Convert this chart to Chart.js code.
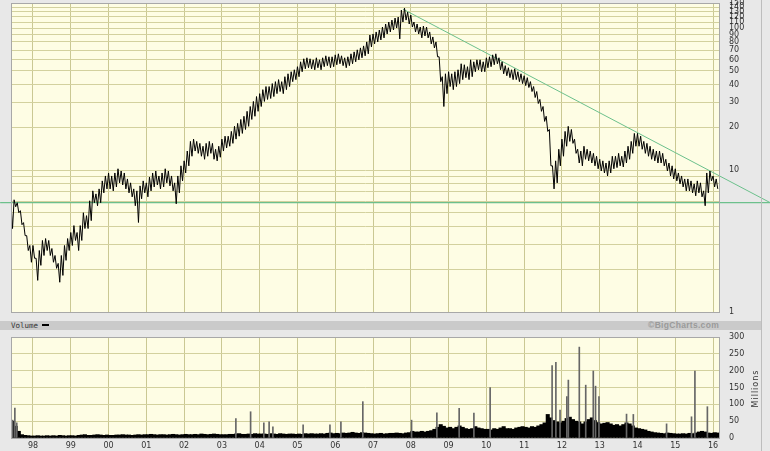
<!DOCTYPE html>
<html>
<head>
<meta charset="utf-8">
<script src="https://cdn.jsdelivr.net/npm/chart.js@4.4.1/dist/chart.umd.min.js"></script>
<style>
  body { margin: 0; width: 770px; height: 451px; background: #e8e8e8; position: relative; overflow: hidden;
         font-family: "DejaVu Sans", Verdana, sans-serif; }
  canvas { position: absolute; left: 0; }
  #price { top: 0; }
  #vol { top: 330px; }
  .band { position: absolute; left: 0; top: 321px; width: 762px; height: 9px; background: #cacaca; }
  .lbl { position: absolute; font-size: 8px; line-height: 9px; color: #333; }
  #volLbl { left: 11px; top: 321px; font-family: "DejaVu Sans Mono", monospace; font-size: 7.5px; }
  #dash { position: absolute; left: 42px; top: 324px; width: 7px; height: 2px; background: #000; }
  #credit { right: 51px; top: 321px; font-family: "Liberation Sans", Arial, sans-serif; font-size: 8.5px;
            font-weight: bold; color: #9a9a9a; letter-spacing: 0.3px; }
  #mill { left: 735px; top: 384px; width: 40px; text-align: center; transform: rotate(-90deg); letter-spacing: 1px; }
  #edge { position: absolute; left: 761px; top: 0; width: 1px; height: 451px; background: #bdbdbd; }
</style>
</head>
<body>
<canvas id="price" width="770" height="316"></canvas>
<div class="band"></div>
<div class="lbl" id="volLbl">Volume</div><div id="dash"></div>
<div class="lbl" id="credit">©BigCharts.com</div>
<canvas id="vol" width="770" height="121"></canvas>
<div class="lbl" id="mill">Millions</div>
<div id="edge"></div>
<script>
// monthly bars, first month = June 1997
const firstMonth = 1997 + 5 / 12;
const xMin = 1997.418;
const xMax = 2016.184;
const yearTicks = [1998, 1999, 2000, 2001, 2002, 2003, 2004, 2005, 2006, 2007, 2008, 2009, 2010, 2011, 2012, 2013, 2014, 2015, 2016];

const priceTicks = [1, 2, 3, 4, 5, 6, 7, 8, 9, 10, 20, 30, 40, 50, 60, 70, 80, 90, 100, 110, 120, 130, 140, 150];
const priceLabels = [1, 10, 20, 30, 40, 50, 60, 70, 80, 90, 100, 110, 120, 130, 140, 150];
const volumeTicks = [0, 50, 100, 150, 200, 250, 300];

const priceHigh = [
  5.88, 6.17, 5.88, 5.17, 4.26, 3.45, 2.94,
  2.94, 2.39, 2.71, 3.19, 3.29, 3.19, 2.80, 2.50, 2.20, 2.50, 2.94, 3.29,
  3.63, 4.06, 3.63, 4.06, 5.00, 4.77, 6.07, 7.13, 6.79, 7.36, 8.38, 9.08,
  9.53, 9.08, 9.53, 10.2, 9.84, 9.53, 8.65, 8.12, 7.36, 7.13, 7.73, 8.38,
  8.12, 8.93, 9.53, 9.84, 9.08, 9.53, 10.2, 9.84, 9.08, 8.12, 9.08, 10.7,
  11.6, 13.6, 15.9, 16.5, 15.9, 15.4, 14.7, 15.4, 15.9, 15.4, 14.0, 14.7,
  16.5, 17.3, 17.3, 18.7, 20.3, 21.3, 22.7, 23.9, 25.9, 28.0, 30.4, 32.9,
  34.5, 36.8, 38.7, 38.7, 40.6, 41.9, 43.3, 41.9, 45.4, 47.6, 49.2, 50.8,
  53.4, 57.8, 60.7, 61.7, 60.7, 59.7, 61.7, 59.7, 61.7, 63.7, 62.7, 62.7,
  64.7, 65.8, 63.7, 61.7, 62.7, 65.8, 67.9, 70.2, 72.4, 74.8, 79.8, 89.3,
  90.8, 93.8, 96.8, 101.6, 106.7, 110.2, 113.7, 117.5, 119.4, 133.6, 138, 129.4,
  123.3, 110.2, 106.7, 101.6, 103.2, 101.6, 93.8, 86.5, 79.8, 62.7, 45.4, 47.6,
  49.2, 47.6, 49.2, 50.8, 56.0, 55.1, 53.4, 59.7, 57.8, 59.7, 59.7, 57.8,
  61.7, 62.7, 64.7, 65.8, 61.7, 57.8, 54.3, 52.5, 50.8, 51.6, 49.2, 47.6,
  46.1, 44.7, 41.9, 38.7, 35.7, 31.4, 28.0, 23.9, 19.3, 10.7, 11.6, 14.0,
  16.5, 18.7, 20.3, 19.3, 16.5, 14.0, 13.6, 14.7, 14.0, 13.6, 13.1, 12.5,
  11.9, 11.6, 11.2, 11.6, 12.5, 12.5, 13.1, 12.5, 13.6, 14.7, 15.9, 18.1,
  18.1, 17.3, 15.9, 15.4, 14.7, 14.0, 13.6, 13.6, 13.1, 11.9, 11.2, 10.7,
  10.2, 9.53, 9.08, 8.65, 8.65, 8.38, 7.98, 8.38, 8.12, 7.13, 9.53, 9.84,
  9.08, 8.65
];
const priceLow = [
  3.87, 5.51, 5.00, 4.12, 3.45, 2.71, 2.24,
  2.39, 1.67, 2.13, 2.50, 2.71, 2.50, 2.24, 2.03, 1.62, 1.81, 2.31, 2.71,
  2.94, 3.19, 2.71, 3.19, 3.87, 3.87, 4.40, 5.88, 5.60, 5.88, 6.90, 7.36,
  7.36, 7.13, 7.60, 8.12, 7.85, 7.36, 6.90, 6.47, 5.60, 4.27, 6.27, 6.90,
  6.47, 7.13, 7.60, 7.85, 7.36, 7.60, 8.12, 7.73, 7.13, 5.78, 6.90, 8.38,
  9.53, 10.7, 12.5, 13.6, 13.1, 12.5, 11.9, 12.5, 13.1, 11.9, 11.6, 12.3,
  13.6, 14.3, 14.7, 15.4, 16.5, 17.3, 18.1, 19.3, 20.3, 22.7, 23.9, 25.9,
  28.0, 30.4, 31.4, 31.9, 32.9, 34.5, 35.7, 34.5, 36.8, 38.7, 41.9, 43.3,
  45.4, 49.2, 51.6, 52.5, 51.6, 50.8, 52.5, 50.8, 53.4, 54.3, 52.5, 53.4,
  55.1, 56.0, 54.3, 52.5, 54.3, 56.0, 57.8, 59.7, 61.7, 63.7, 65.8, 73.6,
  77.3, 79.8, 82.4, 85.2, 90.8, 93.8, 96.8, 100.0, 83.8, 110.2, 113.7, 106.7,
  101.6, 93.8, 90.8, 85.2, 87.9, 85.2, 77.3, 72.4, 62.7, 41.9, 28.0, 34.5,
  38.7, 36.8, 38.7, 40.6, 43.3, 44.7, 43.3, 45.4, 49.2, 50.8, 49.2, 49.2,
  52.5, 53.4, 55.1, 56.0, 50.8, 47.6, 46.1, 44.7, 43.3, 43.3, 41.9, 40.6,
  39.3, 38.1, 35.7, 32.4, 29.4, 25.9, 22.0, 18.7, 10.7, 7.36, 8.12, 10.7,
  12.5, 14.7, 15.9, 15.4, 13.1, 11.2, 10.7, 11.9, 11.6, 11.2, 10.7, 10.2,
  9.84, 9.53, 9.08, 9.53, 10.2, 10.4, 10.7, 10.5, 11.2, 11.9, 13.1, 14.7,
  14.7, 14.0, 13.1, 12.5, 11.9, 11.6, 11.2, 11.2, 10.7, 9.84, 9.08, 8.65,
  8.38, 7.98, 7.60, 7.13, 7.13, 6.90, 6.58, 6.90, 6.47, 5.60, 6.90, 8.38,
  7.60, 7.36
];

// volume, millions of shares: typical level per month
const volumeBase = [
  50, 35, 20, 10, 8, 7, 6,
  6, 7, 6, 6, 7, 6, 7, 6, 8, 7, 6, 7,
  7, 6, 8, 9, 10, 8, 8, 9, 10, 9, 8, 9,
  8, 8, 9, 9, 10, 9, 9, 8, 9, 10, 9, 10,
  10, 11, 10, 9, 10, 10, 9, 10, 11, 10, 9, 10,
  11, 10, 10, 11, 10, 12, 11, 10, 11, 12, 11, 10,
  10, 10, 11, 11, 12, 13, 11, 11, 12, 11, 13, 12,
  12, 12, 11, 13, 12, 11, 13, 12, 11, 12, 12, 11,
  12, 11, 13, 12, 13, 12, 12, 13, 12, 14, 15, 13,
  14, 13, 15, 14, 15, 17, 15, 14, 16, 15, 14, 13,
  12, 13, 14, 12, 13, 14, 14, 15, 14, 13, 15, 16,
  20, 18, 18, 20, 18, 20, 22, 26, 32, 40, 35, 30,
  32, 28, 32, 36, 32, 28, 26, 28, 34, 30, 28, 26,
  26, 24, 28, 26, 30, 34, 28, 28, 26, 30, 32, 34,
  32, 30, 34, 32, 36, 40, 45, 70, 60, 52, 48, 45,
  50, 58, 62, 55, 50, 48, 42, 48, 55, 60, 52, 46,
  42, 44, 46, 42, 38, 40, 36, 40, 45, 42, 36, 30,
  28, 26, 24, 20, 18, 16, 15, 14, 13, 15, 14, 13,
  12, 12, 13, 12, 14, 13, 15, 18, 20, 18, 15, 14,
  16, 15
];
// single heavy sessions
const spikeDates = [1997.46, 1997.52, 1997.57, 2003.37, 2003.76, 2004.11, 2004.25, 2004.35, 2005.15, 2005.86,
  2006.15, 2006.73, 2008.02, 2008.69, 2009.28, 2009.67, 2010.10, 2011.74, 2011.84, 2011.95,
  2012.13, 2012.17, 2012.46, 2012.63, 2012.83, 2012.89, 2012.98, 2013.71, 2013.89, 2014.77,
  2015.43, 2015.52, 2015.85];
const spikeValues = [53, 89, 45, 58, 78, 45, 48, 33, 39, 39,
  48, 108, 53, 75, 88, 74, 150, 215, 225, 83,
  123, 172, 270, 157, 199, 154, 123, 71, 70, 42,
  63, 199, 93];

// trend lines
const resistDates = [2007.794, 2017.507];
const resistValues = [135.8, 5.9];
const supportDates = [1997.13, 2017.507];
const supportValues = [5.9, 5.9];

const green = '#6cc08c';
const gridColor = '#d3d19e';
Chart.defaults.font.family = '"DejaVu Sans", Verdana, sans-serif';
Chart.defaults.font.size = 8;
Chart.defaults.color = '#333';

const panel = {
  id: 'panel',
  beforeDraw(chart) {
    const a = chart.chartArea, c = chart.ctx;
    c.save();
    c.fillStyle = '#fefde4';
    c.fillRect(a.left, a.top, a.right - a.left, a.bottom - a.top);
    c.restore();
  },
  afterDraw(chart) {
    const a = chart.chartArea, c = chart.ctx;
    c.save();
    c.strokeStyle = '#a8a8a8';
    c.lineWidth = 1;
    c.strokeRect(a.left + 0.5, a.top + 0.5, a.right - a.left - 1, a.bottom - a.top);
    c.restore();
  }
};

const priceData = [];
priceHigh.forEach((h, i) => {
  const t = firstMonth + i / 12;
  priceData.push({ x: t, y: h }, { x: t + 1 / 24, y: priceLow[i] });
});

const xScale = (showLabels) => ({
  type: 'linear', min: xMin, max: xMax, offset: false,
  afterBuildTicks: s => { s.ticks = yearTicks.map(v => ({ value: v })); },
  afterFit: s => { s.height = showLabels ? 13 : 0; s.paddingLeft = 0; s.paddingRight = 0; },
  grid: { color: '#cac893', drawTicks: false, offset: false },
  border: { display: false },
  ticks: {
    display: showLabels, padding: 3, autoSkip: false, maxRotation: 0,
    callback: v => String(v % 100).padStart(2, '0')
  }
});

new Chart(document.getElementById('price'), {
  type: 'line',
  data: {
    datasets: [
      { data: priceData, borderColor: '#000', borderWidth: 1, pointRadius: 0, tension: 0 },
      { data: resistDates.map((d, i) => ({ x: d, y: resistValues[i] })), borderColor: green, borderWidth: 1, pointRadius: 0, clip: false },
      { data: supportDates.map((d, i) => ({ x: d, y: supportValues[i] })), borderColor: green, borderWidth: 1.3, pointRadius: 0, clip: false }
    ]
  },
  options: {
    responsive: false, animation: false, events: [],
    layout: { padding: { left: 11, top: 3, right: 0, bottom: 4 } },
    plugins: { legend: { display: false }, tooltip: { enabled: false } },
    scales: {
      x: xScale(false),
      y: {
        type: 'logarithmic', position: 'right', min: 1, max: 150,
        afterBuildTicks: s => { s.ticks = priceTicks.map(v => ({ value: v })); },
        afterFit: s => { s.width = 50; s.paddingTop = 0; s.paddingBottom = 0; },
        grid: { color: gridColor, drawTicks: false },
        border: { display: false },
        ticks: {
          padding: 9, autoSkip: false,
          callback: v => priceLabels.includes(v) ? String(v) : ''
        }
      }
    }
  },
  plugins: [panel]
});

new Chart(document.getElementById('vol'), {
  type: 'bar',
  data: {
    datasets: [
      { data: spikeDates.map((d, i) => ({ x: d, y: spikeValues[i] })), backgroundColor: '#666', barThickness: 1, grouped: false },
      { data: volumeBase.map((v, i) => ({ x: firstMonth + i / 12 + 1 / 24, y: v })), backgroundColor: '#000', barThickness: 3.4, grouped: false }
    ]
  },
  options: {
    responsive: false, animation: false, events: [],
    layout: { padding: { left: 11, top: 7, right: 0, bottom: 0 } },
    plugins: { legend: { display: false }, tooltip: { enabled: false } },
    scales: {
      x: xScale(true),
      y: {
        type: 'linear', position: 'right', min: 0, max: 300,
        afterBuildTicks: s => { s.ticks = volumeTicks.map(v => ({ value: v })); },
        afterFit: s => { s.width = 50; s.paddingTop = 0; s.paddingBottom = 0; },
        grid: { color: gridColor, drawTicks: false },
        border: { display: false },
        ticks: { padding: 9, autoSkip: false }
      }
    }
  },
  plugins: [panel]
});
</script>
</body>
</html>
